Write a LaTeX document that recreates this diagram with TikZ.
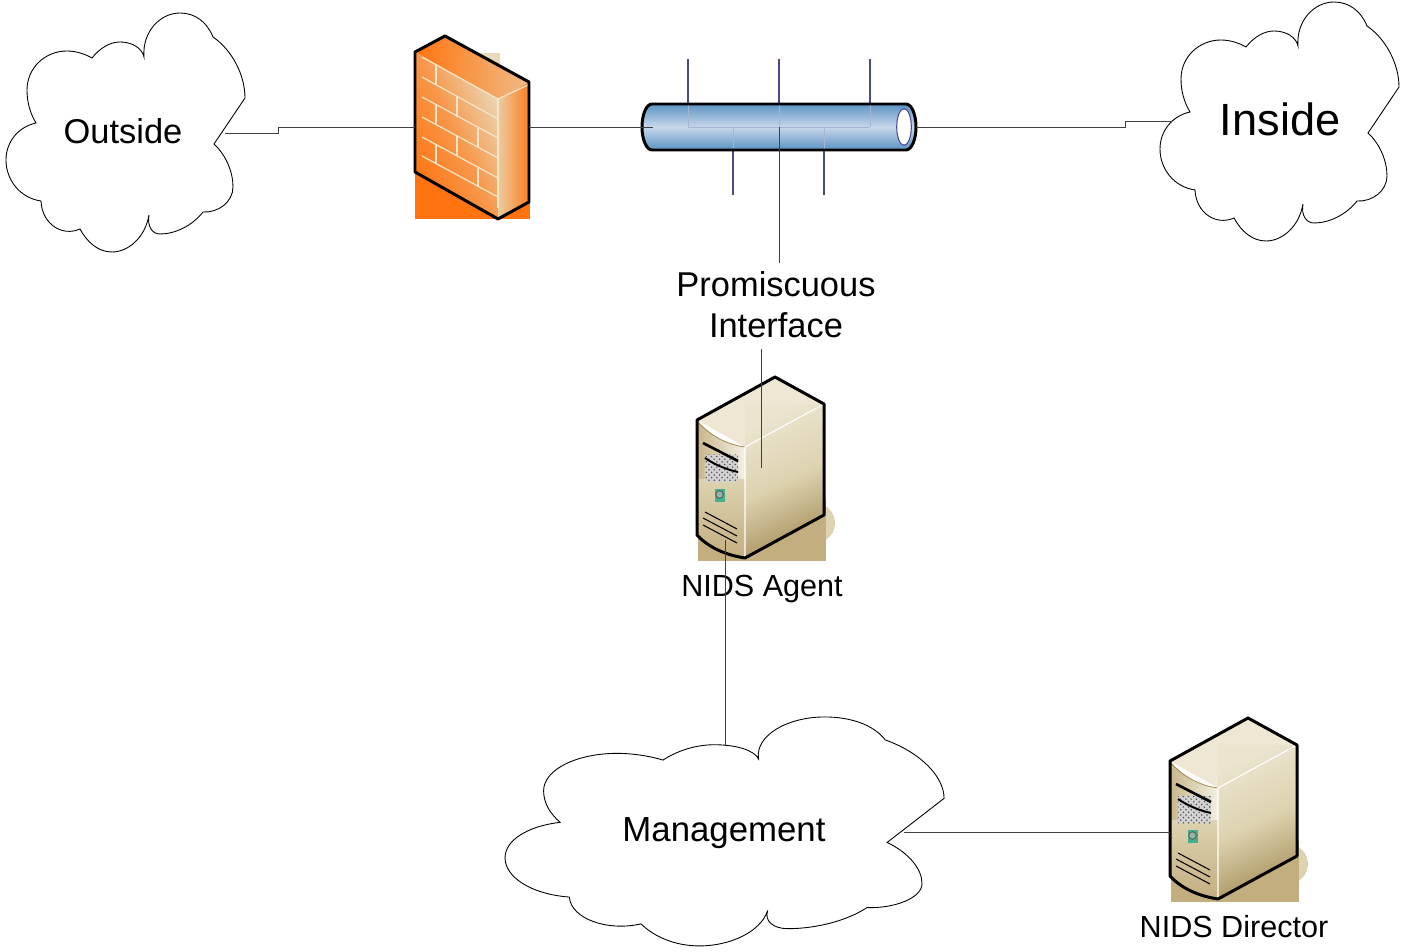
\documentclass[tikz,border=0pt]{standalone}
\usepackage{fontspec}
\setmainfont{Liberation Sans}
\usepackage{tikz}
\usetikzlibrary{calc}
\usetikzlibrary{patterns}
\definecolor{brickorange}{HTML}{FF7410}
\definecolor{bricktan}{HTML}{E9DABA}
\definecolor{brickline}{HTML}{F5E6C8}
\definecolor{tubeblue}{HTML}{5A93C4}
\definecolor{tubelight}{HTML}{C9D7EA}
\definecolor{tapblue}{HTML}{4A4A92}
\definecolor{srvtan}{HTML}{C3AE80}
\definecolor{srvpale}{HTML}{DDD3B0}
\definecolor{srvlight}{HTML}{F4F0E4}
\definecolor{srvdark}{HTML}{A8925E}
\definecolor{srvgreen}{HTML}{45B08C}
\tikzset{
    link/.style={black!75, line width=0.55pt},
    outline/.style={black, line width=1.7pt, line join=round},
    cloudline/.style={black, line width=0.5pt, fill=white},
    iconbox/.style={draw=none, inner sep=0pt, outer sep=0pt},
    biglabel/.style={font=\fontsize{19.6}{23.4}\selectfont, align=center},
    smalllabel/.style={font=\fontsize{17.4}{21}\selectfont}
}
\newcommand{\cloudshape}[4]{\draw[cloudline, shift={(#1,#2)}, xscale=#3, yscale=#4] (92,58) .. controls (100,48) and (110,42) .. (120,42) .. controls (132,42) and (142,48) .. (144,57) .. controls (142,32) and (160,13) .. (180,13) .. controls (195,13) and (207,22) .. (213,37) .. controls (232,50) and (245,75) .. (245,98) -- (214,144) .. controls (226,155) and (233,172) .. (233,187) .. controls (233,202) and (218,213) .. (203,212) .. controls (192,226) and (175,234) .. (160,234) .. controls (152,234) and (147,226) .. (149,215) .. controls (145,238) and (128,252) .. (112,252) .. controls (98,252) and (87,242) .. (80,229) .. controls (62,237) and (42,224) .. (41,201) .. controls (20,198) and (6,180) .. (6,160) .. controls (6,142) and (18,127) .. (36,123) .. controls (30,113) and (27,102) .. (27,90) .. controls (27,68) and (45,51) .. (67,51) .. controls (76,51) and (85,54) .. (92,58) -- cycle;}
\newcommand{\brick}[4]{\draw[brickline, line width=0.7pt] ( #1 , #2 ) -- ( #3 , #4 );}
\newcommand{\tapline}[3]{\draw[tapblue, line width=0.6pt] ( #1 , #2 ) -- ( #1 , #3 );}
\newcommand{\tapfaint}[3]{\draw[tapblue!25!tubelight, line width=0.4pt] ( #1 , #2 ) -- ( #1 , #3 );}
\newcommand{\vent}[4]{\draw[black, line width=0.6pt] ( #1 , #2 ) -- ( #3 , #4 );}
\newcommand{\server}[3]{
    \begin{scope}[shift={(#2,#3)}]
    \fill[srvpale] (815,523) circle (20);
    \fill[srvtan] (698,500) rectangle (826,561);
    \fill[srvlight!70!srvpale] (697,420) -- (775,377) -- (824,404) -- (745,447) -- cycle;
    \shade[left color=srvlight!60!srvpale, right color=srvdark, middle color=srvpale, shading angle=25] (745,404) -- (824,404) -- (824,515) -- (745,558) -- cycle;
    \shade[left color=srvtan!80!srvpale, right color=srvlight] (697,420) .. controls (710,436) and (728,445) .. (745,447) -- (745,480) -- (697,480) -- cycle;
    \shade[top color=srvpale, bottom color=srvtan] (697,479) -- (745,479) -- (745,558) .. controls (725,555) and (708,547) .. (697,535) -- cycle;
    \draw[srvdark!90!brown, line width=0.5pt] (697,421) .. controls (710,436) and (728,445) .. (745,447);
    \draw[white, line width=0.6pt] (824,404) -- (745,447) -- (745,558);
    \fill[gray!35] (705,455) rectangle (738,482);
    \fill[pattern=crosshatch dots, pattern color=gray!70!black] (705,455) rectangle (738,482);
    \draw[black, line width=1.5pt] (703,443) -- (738,461);
    \draw[black, line width=1.1pt] (705,458) .. controls (715,465) and (728,470) .. (738,472);
    \fill[srvgreen] (715,489) rectangle (725,502);
    \draw[gray!70!black, fill=srvgreen!50!gray!70, line width=0.5pt] (719.5,494.5) circle (3.8);
    \vent{705}{512}{737}{529}
    \vent{703}{518}{737}{536}
    \vent{703}{525}{737}{543}
    \draw[outline] (775,377) -- (824,404) -- (824,515) -- (745,558) .. controls (725,555) and (708,547) .. (697,535) -- (697,420) -- cycle;
    \end{scope}
    \node[iconbox, minimum width=2.54cm, minimum height=3.63cm] (#1) at (760.5+#2,467.5+#3) {};
}
\begin{document}
\begin{tikzpicture}[x=0.02cm, y=-0.02cm]
    \useasboundingbox (0,0) rectangle (1403,952);
    % clouds
    \cloudshape{0}{0}{1}{1}
    \cloudshape{1154}{-11}{1}{1}
    \cloudshape{494}{704.5}{1.837}{0.958}
    \node[biglabel] (outside) at (123,131) {Outside};
    \node[font=\fontsize{25.7}{30}\selectfont] (inside) at (1280,119) {Inside};
    \node[font=\fontsize{19.8}{24}\selectfont] (management) at (724,833) {Management};
    % firewall
    \fill[bricktan] (476,53) rectangle (500,84);
    \fill[brickorange] (415,172) rectangle (530,219);
    \shade[left color=brickorange, right color=bricktan!70!brickorange] (415,52) -- (445,36) -- (529,82) -- (498,100) -- cycle;
    \shade[top color=bricktan, bottom color=brickorange, middle color=brickorange!65!bricktan, shading angle=-65] (415,52) -- (498,100) -- (498,219) -- (415,172) -- cycle;
    \shade[left color=bricktan!85!brickorange, right color=brickorange!90!bricktan] (498,100) -- (529,82) -- (529,202) -- (498,219) -- cycle;
    % brick rows
    \brick{422}{57}{498}{99}
    \brick{422}{77}{498}{119}
    \brick{422}{97}{498}{138}
    \brick{422}{117}{498}{158}
    \brick{422}{137}{498}{178}
    \brick{422}{156}{498}{197}
    \brick{498}{99}{498}{208}
    \brick{498}{99}{528}{85}
    % brick joints
    \brick{436}{65}{436}{84}
    \brick{457}{97}{457}{117}
    \brick{436}{104}{436}{124}
    \brick{478}{128}{478}{147}
    \brick{457}{136}{457}{155}
    \brick{436}{145}{436}{164}
    \brick{478}{168}{478}{187}
    \draw[outline] (445,36) -- (529,82) -- (529,202) -- (498,219) -- (415,172) -- (415,52) -- cycle;
    \node[iconbox, minimum width=2.28cm, minimum height=3.64cm] (firewall) at (472,127) {};
    % tube
    \tapline{688}{59}{103}
    \tapline{779}{59}{103}
    \tapline{870}{59}{103}
    \tapline{733}{151}{195}
    \tapline{824}{151}{195}
    \shade[top color=tubeblue, bottom color=tubeblue, middle color=tubelight] (652,104) -- (906,104) arc (-90:90:10 and 23) -- (652,150) arc (90:270:10 and 23) -- cycle;
    \tapfaint{688}{104}{127}
    \tapfaint{779}{104}{127}
    \tapfaint{870}{104}{127}
    \tapfaint{733}{127}{150}
    \tapfaint{824}{127}{150}
    \draw[tapblue!25!tubelight, line width=0.4pt] (688,127) -- (870,127);
    \draw[outline] (652,104) -- (906,104) arc (-90:90:10 and 23) -- (652,150) arc (90:270:10 and 23) -- cycle;
    \draw[tapblue, fill=white, line width=0.6pt] (904,127) ellipse (7.3 and 18.3);
    \node[iconbox, minimum width=5.26cm, minimum height=0.96cm] (tube) at (784.5,127) {};
    % servers
    \server{agent}{0}{0}
    \server{director}{473}{341}
    % labels
    \node[biglabel] (promisc) at (776,305) {Promiscuous\\Interface};
    \node[smalllabel] (agentlabel) at (762,589) {NIDS Agent};
    \node[smalllabel] (directorlabel) at (1234,927) {NIDS Director};
    % connector ends
    \coordinate (outsideport) at (225,133);
    \coordinate (outsidebend) at (278,133);
    \coordinate (insidebend) at (1125,127);
    \coordinate (insideport) at (1172,121);
    \coordinate (tubetap) at (779,127);
    \coordinate (tapend) at (779,263);
    \coordinate (sensetop) at (761,349);
    \coordinate (senseend) at (761,468);
    \coordinate (agentport) at (725,540);
    \coordinate (managementtop) at (725,746);
    \coordinate (managementport) at (904,832);
    % connectors
    \draw[link] (outsideport) -- (outsidebend) |- (firewall.west);
    \draw[link] (firewall.east) -- (tube.west);
    \draw[link] (tube.east) -- (insidebend) |- (insideport);
    \draw[link] (tubetap) -- (tapend);
    \draw[link] (sensetop) -- (senseend);
    \draw[link] (agentport) -- (managementtop);
    \draw[link] (managementport) -- (managementport -| director.west);
\end{tikzpicture}
\end{document}
